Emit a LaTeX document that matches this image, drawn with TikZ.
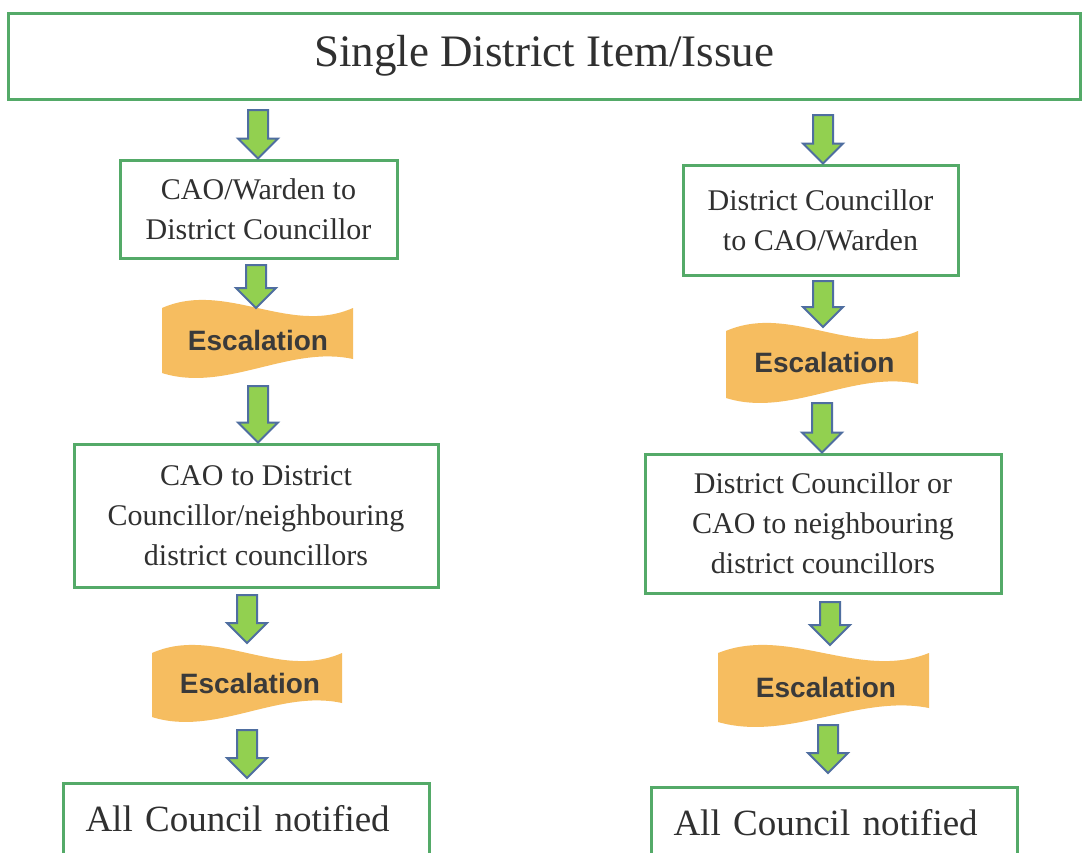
\documentclass[tikz,border=0pt]{standalone}
\usepackage{fontspec}
\setmainfont{Liberation Serif}
\newfontfamily\escfont{Liberation Sans}
\usetikzlibrary{calc}
\definecolor{boxgreen}{RGB}{84,170,104}
\definecolor{arrowgreen}{RGB}{146,208,80}
\definecolor{arrowblue}{RGB}{79,110,160}
\definecolor{bannerfill}{RGB}{246,189,96}
\definecolor{txtgray}{RGB}{48,48,48}
\definecolor{escgray}{RGB}{58,58,58}
\newcommand{\wavebanner}[5]{% L R top bottom-left bottom-right
  \pgfmathsetmacro\wbA{#1+(#2-#1)/3}%
  \pgfmathsetmacro\wbB{#1+2*(#2-#1)/3}%
  \pgfmathsetmacro\wbTU{#3-28}%
  \pgfmathsetmacro\wbTD{#3+28}%
  \pgfmathsetmacro\wbBD{#4+20}%
  \pgfmathsetmacro\wbBU{#5-14}%
  \fill[bannerfill] (#1,#3) .. controls (\wbA,\wbTU) and (\wbB,\wbTD) .. (#2,#3)
     -- (#2,#5) .. controls (\wbB,\wbBU) and (\wbA,\wbBD) .. (#1,#4) -- cycle;}
\begin{document}
\begin{tikzpicture}[x=1pt,y=-1pt,
  box/.style={draw=boxgreen, line width=3pt, fill=white, align=center, text=txtgray,
              inner sep=0pt, font=\fontsize{30}{40}\selectfont},
  endbox/.style={draw=boxgreen, line width=3pt, fill=white, align=left, text=txtgray,
              anchor=north west, inner xsep=22pt, inner ysep=0pt, text width=322pt,
              minimum height=100pt, text height=26pt, text depth=31pt,
              font=\fontsize{37}{40}\selectfont},
  esc/.style={font=\escfont\bfseries\fontsize{28}{30}\selectfont, text=escgray, inner sep=0pt},
  blockarrow/.style={draw=arrowblue, fill=arrowgreen, line width=2pt, line join=miter,
    to path={let \p1=(\tikztostart), \p2=(\tikztotarget) in
      (\x1-10pt,\y1) -- (\x1+10pt,\y1) -- (\x1+10pt,\y2+20pt) -- (\x1+20pt,\y2+20pt)
      -- (\x1,\y2) -- (\x1-20pt,\y2+20pt) -- (\x1-10pt,\y2+20pt) -- cycle}}]
\clip (0,0) rectangle (1084,852);
\fill[white] (0,0) rectangle (1084,852);

% title
\node[box, font=\fontsize{45}{50}\selectfont, minimum width=1072pt, minimum height=86pt] (title) at (544,56) {Single District Item/Issue};

% left column
\node[box, minimum width=277pt, minimum height=98pt] (l1) at (258.5,209) {CAO/Warden to\\District Councillor};
\node[box, minimum width=364pt, minimum height=143pt] (l2) at (256,515.5) {CAO to District\\Councillor/neighbouring\\district councillors};
\node[endbox] (l3) at (62,782) {All Council notified};

% right column
\node[box, minimum width=275pt, minimum height=110pt] (r1) at (820.5,220) {District Councillor\\to CAO/Warden};
\node[box, minimum width=356pt, minimum height=139pt] (r2) at (823,523.5) {District Councillor or\\CAO to neighbouring\\district councillors};
\node[endbox] (r3) at (650,786) {All Council notified};

% banners
\wavebanner{162}{353}{308}{373}{359}
\wavebanner{152}{342}{653}{717}{703}
\wavebanner{726}{918}{331}{398}{384}
\wavebanner{718}{929}{653}{722}{708}
\node[esc] (le1) at (258,340) {Escalation};
\node[esc] (le2) at (250,683) {Escalation};
\node[esc] (re1) at (824.5,362) {Escalation};
\node[esc] (re2) at (826,687) {Escalation};

% arrow coordinates
\coordinate (la1) at (258,110);
\coordinate (la2) at (256,265);
\coordinate (la2e) at (256,308);
\coordinate (la3) at (258,386);
\coordinate (la4) at (247,595);
\coordinate (la4e) at (247,643);
\coordinate (la5) at (247,730);
\coordinate (la5e) at (247,778);
\coordinate (ra1) at (823,115);
\coordinate (ra2) at (823,281);
\coordinate (ra2e) at (823,327);
\coordinate (ra3) at (822,403);
\coordinate (ra4) at (830,602);
\coordinate (ra4e) at (830,645);
\coordinate (ra5) at (828,725);
\coordinate (ra5e) at (828,773);

\draw[blockarrow] (la1) to (la1 |- l1.north);
\draw[blockarrow] (la2) to (la2e);
\draw[blockarrow] (la3) to (la3 |- l2.north);
\draw[blockarrow] (la4) to (la4e);
\draw[blockarrow] (la5) to (la5e);
\draw[blockarrow] (ra1) to (ra1 |- r1.north);
\draw[blockarrow] (ra2) to (ra2e);
\draw[blockarrow] (ra3) to (ra3 |- r2.north);
\draw[blockarrow] (ra4) to (ra4e);
\draw[blockarrow] (ra5) to (ra5e);
\end{tikzpicture}
\end{document}
